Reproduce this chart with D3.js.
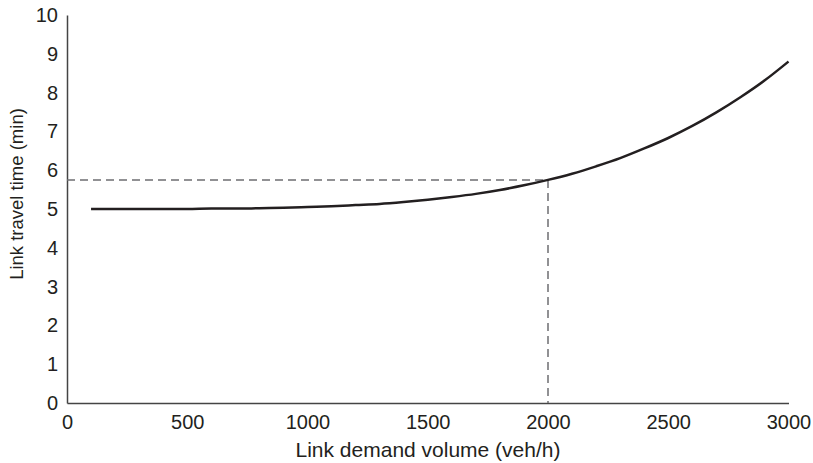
<!DOCTYPE html>
<html>
<head>
<meta charset="utf-8">
<script src="https://cdn.jsdelivr.net/npm/d3@7"></script>
<style>
  body { margin: 0; background: #fff; }
  text { font-family: "Liberation Sans", Arial, sans-serif; fill: #231f20; }
</style>
</head>
<body>
<script>
// volume (veh/h) and travel time (min)
var volume = [100, 200, 300, 400, 500, 600, 700, 800, 900, 1000, 1100, 1200, 1300, 1400, 1500,
              1600, 1700, 1800, 1900, 2000, 2100, 2200, 2300, 2400, 2500, 2600, 2700, 2800, 2900, 3000];
var travelTime = [5.00, 5.00, 5.00, 5.00, 5.00, 5.01, 5.01, 5.02, 5.03, 5.05, 5.07, 5.10, 5.13, 5.18, 5.24,
                  5.31, 5.39, 5.49, 5.61, 5.75, 5.91, 6.10, 6.31, 6.56, 6.83, 7.14, 7.49, 7.88, 8.31, 8.80];
var xTicks = [0, 500, 1000, 1500, 2000, 2500, 3000];
var yTicks = [0, 1, 2, 3, 4, 5, 6, 7, 8, 9, 10];
var marker = { v: 2000, t: 5.75 };

var width = 813, height = 463;
var svg = d3.select("body").append("svg")
  .attr("width", width)
  .attr("height", height);

var x = d3.scaleLinear().domain([0, 3000]).range([67, 788.5]);
var y = d3.scaleLinear().domain([0, 10]).range([403, 15]);

// axes without tick marks
var xAxis = svg.append("g")
  .attr("transform", "translate(0," + y(0) + ")")
  .call(d3.axisBottom(x).tickValues(xTicks).tickFormat(d3.format("d")).tickSize(0).tickPadding(12));
xAxis.select(".domain").attr("stroke", "#444").attr("stroke-width", 1.5);
xAxis.attr("font-family", null).attr("font-size", null);
xAxis.selectAll("text").style("font-size", "20px").style("fill", "#231f20");

var yAxis = svg.append("g")
  .attr("transform", "translate(" + x(0) + ",0)")
  .call(d3.axisLeft(y).tickValues(yTicks).tickSize(0).tickPadding(9));
yAxis.select(".domain").attr("stroke", "#444").attr("stroke-width", 1.5);
yAxis.attr("font-family", null).attr("font-size", null);
yAxis.selectAll("text").style("font-size", "20px").style("fill", "#231f20");

// dashed guide lines
svg.append("path")
  .attr("d", "M" + x(0) + "," + y(marker.t) + "H" + x(marker.v) + "V" + y(0))
  .attr("fill", "none")
  .attr("stroke", "#6d6e71")
  .attr("stroke-width", 1.5)
  .attr("stroke-dasharray", "8,5");

var line = d3.line()
  .x(function(d, i){ return x(volume[i]); })
  .y(function(d){ return y(d); })
  .curve(d3.curveMonotoneX);

svg.append("path")
  .datum(travelTime)
  .attr("d", line)
  .attr("fill", "none")
  .attr("stroke", "#231f20")
  .attr("stroke-width", 2.5);

svg.append("text")
  .attr("x", 428)
  .attr("y", 457)
  .attr("text-anchor", "middle")
  .style("font-size", "21px")
  .text("Link demand volume (veh/h)");

svg.append("text")
  .attr("transform", "translate(23,194) rotate(-90)")
  .attr("text-anchor", "middle")
  .style("font-size", "18.5px")
  .text("Link travel time (min)");
</script>
</body>
</html>
